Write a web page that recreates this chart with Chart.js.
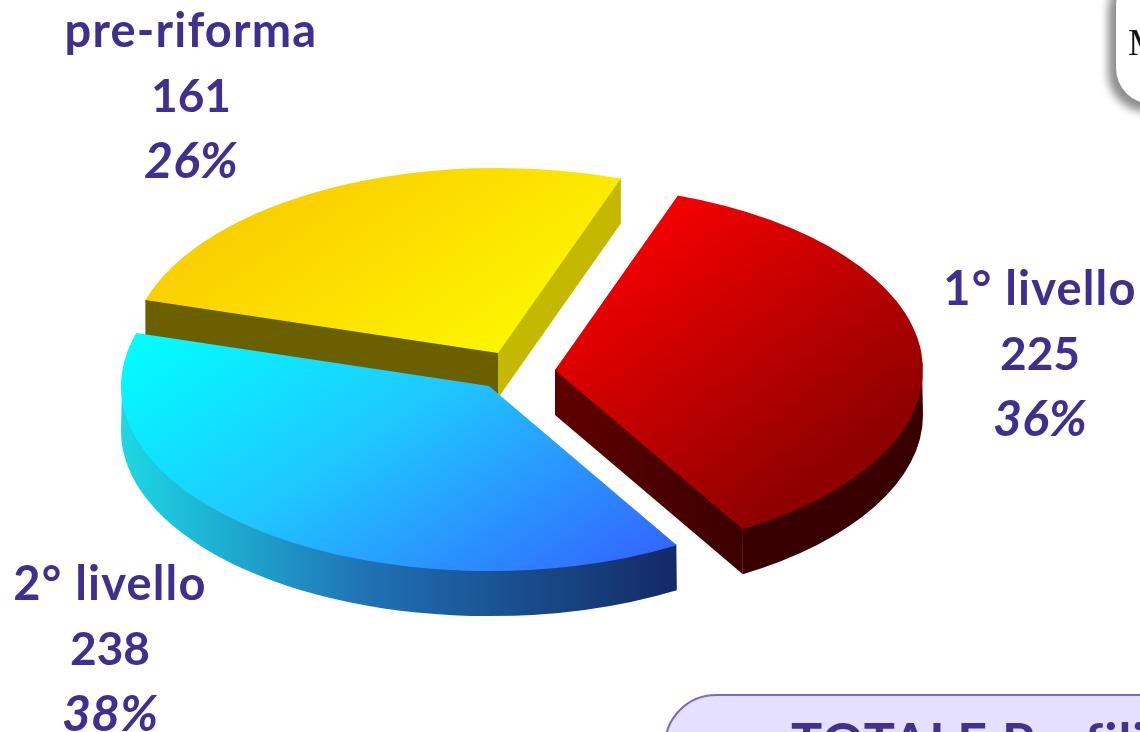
<!DOCTYPE html>
<html><head><meta charset="utf-8">
<script src="https://cdn.jsdelivr.net/npm/chart.js@4/dist/chart.umd.min.js"></script>
<style>
html,body{margin:0;padding:0;background:#fff;overflow:hidden;width:1140px;height:732px}
#wrap{position:relative;width:1140px;height:732px;overflow:hidden}
canvas{position:absolute;left:0;top:0}
.note{position:absolute;left:1116px;top:-30px;width:120px;height:134px;background:#fff;border-radius:36px;box-shadow:-5px 5px 9px 3px #8f8f8f}
.note span{position:absolute;left:12px;top:50px;font:38px "Liberation Serif",serif;color:#111}
.total{position:absolute;left:664px;top:694px;width:560px;height:120px;background:#e6e0ff;border:2px solid #7a68cc;border-radius:52px;box-sizing:border-box}
.total span{position:absolute;left:125px;top:13px;font:bold 52px Lato,sans-serif;letter-spacing:1px;color:#44308f;white-space:nowrap}
</style></head><body>
<div id="wrap">
<canvas id="c" width="1140" height="732"></canvas>
<div class="note"><span>M</span></div>
<div class="total"><span>TOTALE Profili</span></div>
</div>
<script>
const categories = ['1° livello', '2° livello', 'pre-riforma'];
const counts = [225, 238, 161];
const shares = ['36%', '38%', '26%'];

const SQUASH = 0.503, DEPTH = 45, RADIUS = 368;
const CX = 516, CY = 372;
const explode = [[39, -2], [-27, 14], [-18, -19]];
const canvas = document.getElementById('c');
const ctx = canvas.getContext('2d');
function topGrad(i, x0, y0, x1, y1, stops) {
  const [dx, dy] = explode[i];
  const g = ctx.createLinearGradient(x0 - dx, CY + (y0 - CY - dy) / SQUASH, x1 - dx, CY + (y1 - CY - dy) / SQUASH);
  stops.forEach(([p, c]) => g.addColorStop(p, c));
  return g;
}
function sideGrad(x0, x1, stops) {
  const g = ctx.createLinearGradient(x0, 0, x1, 0);
  stops.forEach(([p, c]) => g.addColorStop(p, c));
  return g;
}
const topFills = [
  topGrad(0, 640, 230, 990, 350, [[0, '#f40000'], [1, '#8f0000']]),
  topGrad(1, 137, 332, 685, 539, [[0, '#00ffff'], [0.45, '#1fc8ff'], [1, '#3366ff']]),
  topGrad(2, 145, 298, 422, 402, [[0, '#fbd000'], [1, '#fdf500']])
];
const sideFills = [
  { outer: '#380000', start: '#380000', end: sideGrad(555, 740, [[0, '#600000'], [1, '#3c0000']]) },
  { outer: sideGrad(121, 674, [[0, '#1cd8e4'], [0.45, '#2070b4'], [1, '#132a66']]), start: '#132a66', end: '#1cd8e4' },
  { outer: '#6b6000', start: '#6a6000', end: '#c4b900' }
];
const ink = '#3f2f8f';
const labelPos = [[1040, 305], [110, 600], [191, 47]];

const pie3d = {
  id: 'pie3d',
  beforeDatasetDraw() { return false; },
  afterDatasetsDraw(chart) {
    const c = chart.ctx, els = chart.getDatasetMeta(0).data;
    [2, 0, 1].forEach(i => {
      const el = els[i], p = el.getProps(['x', 'y', 'startAngle', 'endAngle', 'outerRadius'], true);
      const cx = p.x + explode[i][0], cy = p.y + explode[i][1];
      const R = p.outerRadius, Ry = R * SQUASH, s = sideFills[i];
      const pt = (a, f) => [cx + f * R * Math.cos(a), cy + f * Ry * Math.sin(a)];
      const face = (a, fill) => {
        const q = pt(a, 1), q2 = pt(a, 0.995);
        c.fillStyle = fill; c.beginPath();
        c.moveTo(cx, cy - 1); c.lineTo(q2[0], q2[1] - 1); c.lineTo(q[0], q[1]); c.lineTo(q[0], q[1] + DEPTH); c.lineTo(cx, cy + DEPTH);
        c.closePath(); c.fill();
      };
      if (-Math.cos(p.startAngle) > 0) face(p.startAngle, s.start);
      if (Math.cos(p.endAngle) > 0) face(p.endAngle, s.end);
      const a0 = Math.max(p.startAngle, 0), a1 = Math.min(p.endAngle, Math.PI);
      if (a1 > a0) {
        c.fillStyle = s.outer; c.beginPath();
        c.ellipse(cx, cy, R - 1, Ry - 1, 0, a0, a1);
        c.ellipse(cx, cy + DEPTH, R, Ry, 0, a1, a0, true);
        c.closePath(); c.fill();
      }
      c.save();
      c.translate(cx, cy); c.scale(1, SQUASH); c.translate(-p.x, -p.y);
      el.draw(c);
      c.restore();
    });
    c.save();
    c.fillStyle = ink; c.textAlign = 'center'; c.textBaseline = 'alphabetic';
    categories.forEach((name, i) => {
      const [x, y] = labelPos[i];
      c.letterSpacing = '1.2px';
      c.font = 'bold 47px Lato, sans-serif';
      c.fillText(name, x, y);
      c.letterSpacing = '0px';
      c.font = 'bold 46px Lato, sans-serif';
      c.fillText(String(counts[i]), x, y + 65);
      c.font = 'italic bold 50px Lato, sans-serif';
      c.fillText(shares[i], x, y + 131);
    });
    c.restore();
  }
};

new Chart(ctx, {
  type: 'pie',
  data: { labels: categories, datasets: [{ data: counts, backgroundColor: topFills, borderWidth: 0, clip: false }] },
  options: {
    responsive: false, animation: false, rotation: 19.5, radius: RADIUS,
    layout: { padding: { left: 0, right: 1140 - 2 * CX, top: 2 * CY - 732, bottom: 0 } },
    plugins: { legend: { display: false }, tooltip: { enabled: false } }
  },
  plugins: [pie3d]
});
</script>
</body></html>
